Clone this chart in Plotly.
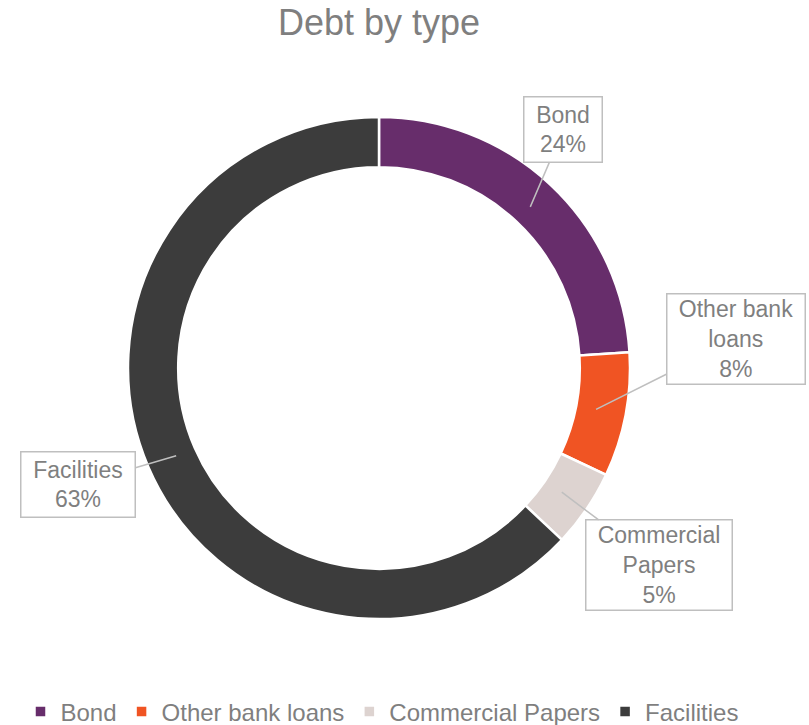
import math
import plotly.graph_objects as go

labels = ["Bond", "Other bank loans", "Commercial Papers", "Facilities"]
values = [24, 8, 5, 63]
colors = ["#672D6B", "#F05423", "#DDD3D0", "#3C3C3C"]
label_texts = ["Bond<br>24%", "Other bank<br>loans<br>8%", "Commercial<br>Papers<br>5%", "Facilities<br>63%"]

W, H = 809, 725
CX, CY = 379, 368                # pie centre (page px)
DOM_R = 251                      # domain half-size -> outer radius
R_TIP = 221                      # radius where callout pointers touch the ring
offsets = [(33, -77), (140, -70), (97, 73), (-98, 29)]
boxes = [(75, 62), (135, 87), (143, 87), (111, 62)]

FONT = "Liberation Sans, Arial, sans-serif"
GRAY = "#7F7F7F"


def px2x(px):
    return px / W


def py2y(py):
    return 1 - py / H


fig = go.Figure(go.Pie(
    labels=labels, values=values, hole=0.8, sort=False,
    direction="clockwise", rotation=0,
    marker=dict(colors=colors, line=dict(color="white", width=2.5)),
    textinfo="none", hoverinfo="label+percent",
    domain=dict(x=[px2x(CX - DOM_R), px2x(CX + DOM_R)],
                y=[py2y(CY + DOM_R), py2y(CY - DOM_R)]),
))

total = sum(values)
cum = 0
annotations = []
for lab, v, (ax, ay), (bw, bh) in zip(label_texts, values, offsets, boxes):
    mid = (cum + v / 2) / total * 2 * math.pi
    cum += v
    px = CX + R_TIP * math.sin(mid)
    py = CY - R_TIP * math.cos(mid)
    annotations.append(dict(
        x=px2x(px), y=py2y(py), xref="paper", yref="paper",
        text=lab, showarrow=True, ax=ax, ay=ay, arrowhead=0,
        arrowwidth=1.5, arrowcolor="#BFBFBF", standoff=0,
        bgcolor="white", bordercolor="#BFBFBF", borderwidth=1.5, borderpad=1,
        width=bw, height=bh, align="center",
        font=dict(family=FONT, size=23, color=GRAY),
    ))

fig.update_layout(
    width=W, height=H,
    margin=dict(l=0, r=0, t=0, b=0, autoexpand=False),
    paper_bgcolor="white", plot_bgcolor="white",
    title=dict(text="Debt by type", x=px2x(379), xanchor="center", y=py2y(22), yanchor="middle",
               font=dict(family=FONT, size=36, color=GRAY)),
    showlegend=True,
    legend=dict(orientation="h", x=px2x(382), xanchor="center", xref="container",
                y=py2y(712), yanchor="middle", yref="container",
                font=dict(family=FONT, size=24, color=GRAY), traceorder="normal"),
    annotations=annotations,
)

fig.write_html("out.html", config={"displayModeBar": False},
               post_script="document.body.style.margin='0px';")
